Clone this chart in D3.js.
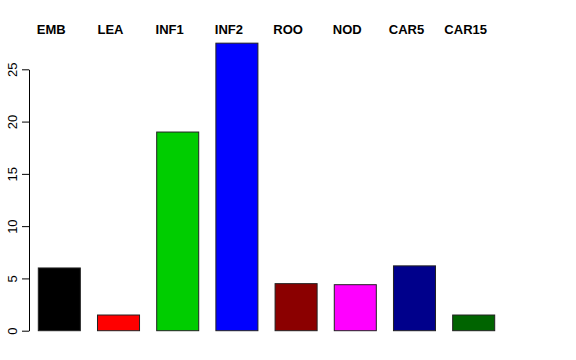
<!DOCTYPE html>
<html lang="en">
<head>
    <meta charset="UTF-8">
    <title>Bar chart</title>
    <script src="https://d3js.org/d3.v7.min.js"></script>
    <style>
        body { margin: 0; background: #ffffff; }
        svg { display: block; font-family: 'Liberation Sans', Arial, sans-serif; }
        .label { font-weight: bold; font-size: 13px; }
        .axis text { font-size: 13px; }
    </style>
</head>
<body>
    <svg width="576" height="360"></svg>

    <script>
        // data
        const categories = ["EMB", "LEA", "INF1", "INF2", "ROO", "NOD", "CAR5", "CAR15"];
        const values = [6, 1.5, 19, 27.5, 4.5, 4.4, 6.2, 1.5];
        const colors = ["#000000", "#FF0000", "#00CD00", "#0000FF", "#8B0000", "#FF00FF", "#00008B", "#006400"];
        const yTicks = [0, 5, 10, 15, 20, 25];

        const svg = d3.select("svg");

        const x = d3.scaleBand()
            .domain(categories)
            .range([38.3, 494.7])
            .paddingInner(0.29)
            .paddingOuter(0);

        const y = d3.scaleLinear()
            .domain([0, 25])
            .range([330.7, 69.3]);

        // bars
        svg.selectAll(".bar")
            .data(categories)
            .enter()
            .append("rect")
            .attr("class", "bar")
            .attr("x", d => x(d))
            .attr("y", (d, i) => y(values[i]))
            .attr("width", x.bandwidth())
            .attr("height", (d, i) => y(0) - y(values[i]))
            .attr("fill", (d, i) => colors[i])
            .attr("stroke", "#222")
            .attr("stroke-width", 1);

        // labels on top, shifted a bit left like the original
        svg.selectAll(".label")
            .data(categories)
            .enter()
            .append("text")
            .attr("class", "label")
            .attr("x", d => x(d) + x.bandwidth() / 2 - 8)
            .attr("y", 34)
            .attr("text-anchor", "middle")
            .text(d => d);

        // y axis
        const yAxis = svg.append("g")
            .attr("class", "axis")
            .attr("transform", "translate(29,0)")
            .call(d3.axisLeft(y).tickValues(yTicks).tickSize(7).tickSizeOuter(0));

        yAxis.select(".domain").attr("stroke", "#000");
        yAxis.selectAll(".tick line").attr("stroke", "#000");
        yAxis.selectAll(".tick text")
            .attr("x", 0)
            .attr("y", 0)
            .attr("dx", 0)
            .attr("dy", 0)
            .attr("text-anchor", "middle")
            .attr("transform", "translate(-12,0) rotate(-90)");
    </script>
</body>
</html>
